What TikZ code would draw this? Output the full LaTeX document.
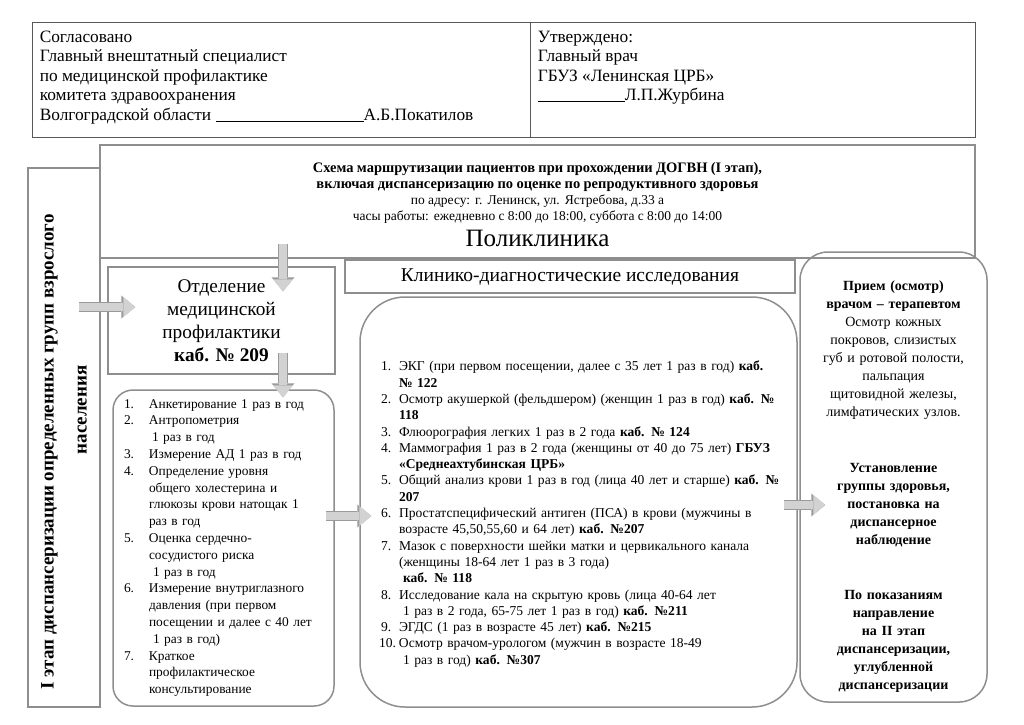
\documentclass[tikz,border=0pt]{standalone}
\usepackage{fontspec}
\setmainfont{Liberation Serif}
\usetikzlibrary{arrows.meta, positioning}
\definecolor{framegray}{HTML}{8E8E8E}
\definecolor{arrowfill}{HTML}{D2D2D2}
\definecolor{arrowline}{HTML}{9A9A9A}
\newcommand{\lnum}[1]{\makebox[25pt][l]{#1}}
\newcommand{\lgap}{\hspace*{25pt}}
\newcommand{\cnum}[1]{\hspace*{8pt}\makebox[18pt][l]{#1}}
\newcommand{\cgap}{\hspace*{26pt}}
\tikzset{
  headbox/.style={
    rectangle,
    draw=black!65,
    line width=0.8pt
  },
  headtext/.style={
    align=left,
    inner sep=0pt,
    font=\fontsize{17.3}{19.5}\selectfont
  },
  box/.style={
    rectangle,
    draw=framegray,
    line width=1.5pt,
    align=center
  },
  roundbox/.style={
    rectangle,
    rounded corners=#1,
    draw=framegray,
    line width=1.5pt
  },
  blockarrow/.style={
    draw=arrowfill,
    line width=8pt,
    -{Triangle[width=20pt, length=12pt, line width=0pt]},
    preaction={draw=arrowline, line width=10pt, -{Triangle[width=23pt, length=14pt, line width=0pt]}}
  }
}

\begin{document}
\begin{tikzpicture}[x=1pt, y=-1pt, node distance=9pt and 8pt]
\useasboundingbox[fill=white] (0,0) rectangle (1024,724);

\node[headbox, minimum width=498pt, minimum height=115pt] (agreed) at (281,79.5) {};
\node[headbox, minimum width=445pt, minimum height=115pt] (approved) at (752.5,79.5) {};
\node[headtext, below right=of agreed.north west] (agreedtext) {Согласовано\\
  Главный внештатный специалист\\
  по медицинской профилактике\\
  комитета здравоохранения\\
  Волгоградской области \rule[-1pt]{148pt}{0.6pt}А.Б.Покатилов};
\node[headtext, below right=of approved.north west] (approvedtext) {Утверждено:\\
  Главный врач\\
  ГБУЗ «Ленинская ЦРБ»\\
  \rule[-1pt]{87pt}{0.6pt}Л.П.Журбина};

\node[box, minimum width=875pt, minimum height=113pt, text width=860pt] (title) at (537.5,201.5) {\fontsize{14.5}{16}\selectfont
  \bfseries\rule{0pt}{16pt}Схема маршрутизации пациентов при прохождении ДОГВН (I этап),\\
  включая диспансеризацию по оценке по репродуктивного здоровья\\
  \fontsize{13.5}{16}\selectfont\mdseries по адресу: г. Ленинск, ул. Ястребова, д.33 а\\
  часы работы: ежедневно с 8:00 до 18:00, суббота с 8:00 до 14:00\par\vspace{5pt}
  \fontsize{25}{25}\selectfont Поликлиника};

\node[box, rotate=90, minimum width=539pt, minimum height=72pt, font=\fontsize{19}{33}\selectfont\bfseries] (stage) at (64,437.5) {I этап диспансеризации определенных групп взрослого\hspace*{29pt}\\
  \hspace*{55pt}населения};

\node[box, minimum width=227pt, minimum height=107pt, font=\fontsize{19.3}{23}\selectfont] (dept) at (221.5,320.5) {Отделение\\
  медицинской\\
  профилактики\\
  \textbf{каб. № 209}};

\node[box, minimum width=450pt, minimum height=33pt, font=\fontsize{19.5}{20}\selectfont] (diag) at (570,276.5) {Клинико-диагностические исследования};

\node[roundbox=20pt, minimum width=221pt, minimum height=316pt, text width=199pt, inner xsep=11pt, align=left, font=\fontsize{13.4}{16.8}\selectfont] (checks) at (223.5,548) {\lnum{1.}Анкетирование 1 раз в год\\
  \lnum{2.}Антропометрия\\
  \lgap\hspace*{3pt}1 раз в год\\
  \lnum{3.}Измерение АД 1 раз в год\\
  \lnum{4.}Определение уровня\\
  \lgap общего холестерина и\\
  \lgap глюкозы крови натощак 1\\
  \lgap раз в год\\
  \lnum{5.}Оценка сердечно-\\
  \lgap сосудистого риска\\
  \lgap\hspace*{4pt}1 раз в год\\
  \lnum{6.}Измерение внутриглазного\\
  \lgap давления (при первом\\
  \lgap посещении и далее с 40 лет\\
  \lgap\hspace*{4pt}1 раз в год)\\
  \lnum{7.}Краткое\\
  \lgap профилактическое\\
  \lgap консультирование};

\node[roundbox=45pt, minimum width=437pt, minimum height=410pt, text width=411pt, inner xsep=13pt, align=left, font=\fontsize{13.55}{16.3}\selectfont] (tests) at (578.5,502) {\rule{0pt}{34pt}\cnum{1.}ЭКГ (при первом посещении, далее с 35 лет 1 раз в год) \textbf{каб.}\\
  \cgap\textbf{№ 122}\\
  \cnum{2.}Осмотр акушеркой (фельдшером) (женщин 1 раз в год) \textbf{каб. №}\\
  \cgap\textbf{118}\\
  \cnum{3.}Флюорография легких 1 раз в 2 года \textbf{каб. № 124}\\
  \cnum{4.}Маммография 1 раз в 2 года (женщины от 40 до 75 лет) \textbf{ГБУЗ}\\
  \cgap\textbf{«Среднеахтубинская ЦРБ»}\\
  \cnum{5.}Общий анализ крови 1 раз в год (лица 40 лет и старше) \textbf{каб. №}\\
  \cgap\textbf{207}\\
  \cnum{6.}Простатспецифический антиген (ПСА) в крови (мужчины в\\
  \cgap возрасте 45,50,55,60 и 64 лет) \textbf{каб. №207}\\
  \cnum{7.}Мазок с поверхности шейки матки и цервикального канала\\
  \cgap (женщины 18-64 лет 1 раз в 3 года)\\
  \cgap\hspace*{4pt}\textbf{каб. № 118}\\
  \cnum{8.}Исследование кала на скрытую кровь (лица 40-64 лет\\
  \cgap\hspace*{4pt}1 раз в 2 года, 65-75 лет 1 раз в год) \textbf{каб. №211}\\
  \cnum{9.}ЭГДС (1 раз в возрасте 45 лет) \textbf{каб. №215}\\
  \hspace*{6pt}\makebox[20pt][l]{10.}Осмотр врачом-урологом (мужчин в возрасте 18-49\\
  \cgap\hspace*{4pt}1 раз в год) \textbf{каб. №307}};

\node[roundbox=28pt, minimum width=187pt, minimum height=450pt, text width=183pt, inner xsep=2pt, align=center, font=\fontsize{14}{18}\selectfont] (result) at (893.5,477) {\rule{0pt}{28pt}\textbf{Прием (осмотр)}\\
  \textbf{врачом – терапевтом}\\
  Осмотр кожных\\
  покровов, слизистых\\
  губ и ротовой полости,\\
  пальпация\\
  щитовидной железы,\\
  лимфатических узлов.\\[38pt]
  \textbf{Установление}\\
  \textbf{группы здоровья,}\\
  \textbf{постановка на}\\
  \textbf{диспансерное}\\
  \textbf{наблюдение}\\[37pt]
  \textbf{По показаниям}\\
  \textbf{направление}\\
  \textbf{на II этап}\\
  \textbf{диспансеризации,}\\
  \textbf{углубленной}\\
  \textbf{диспансеризации}};

\draw[blockarrow] ([xshift=61.5pt, yshift=15pt]title.south -| dept.north) -- ([xshift=61.5pt, yshift=-25pt]dept.north);
\draw[blockarrow] ([xshift=-22pt, yshift=13.5pt]stage.south |- dept.west) -- ([xshift=28pt, yshift=13.5pt]dept.west);
\draw[blockarrow] ([xshift=61.5pt, yshift=22pt]dept.south) -- ([xshift=59.5pt, yshift=-8pt]checks.north);
\draw[blockarrow] ([xshift=-9pt, yshift=32pt]checks.east) -- ([xshift=12pt, yshift=-14pt]tests.west);
\draw[blockarrow] ([xshift=-14pt, yshift=-3pt]tests.east) -- ([xshift=26pt, yshift=-28pt]result.west);
\end{tikzpicture}
\end{document}
